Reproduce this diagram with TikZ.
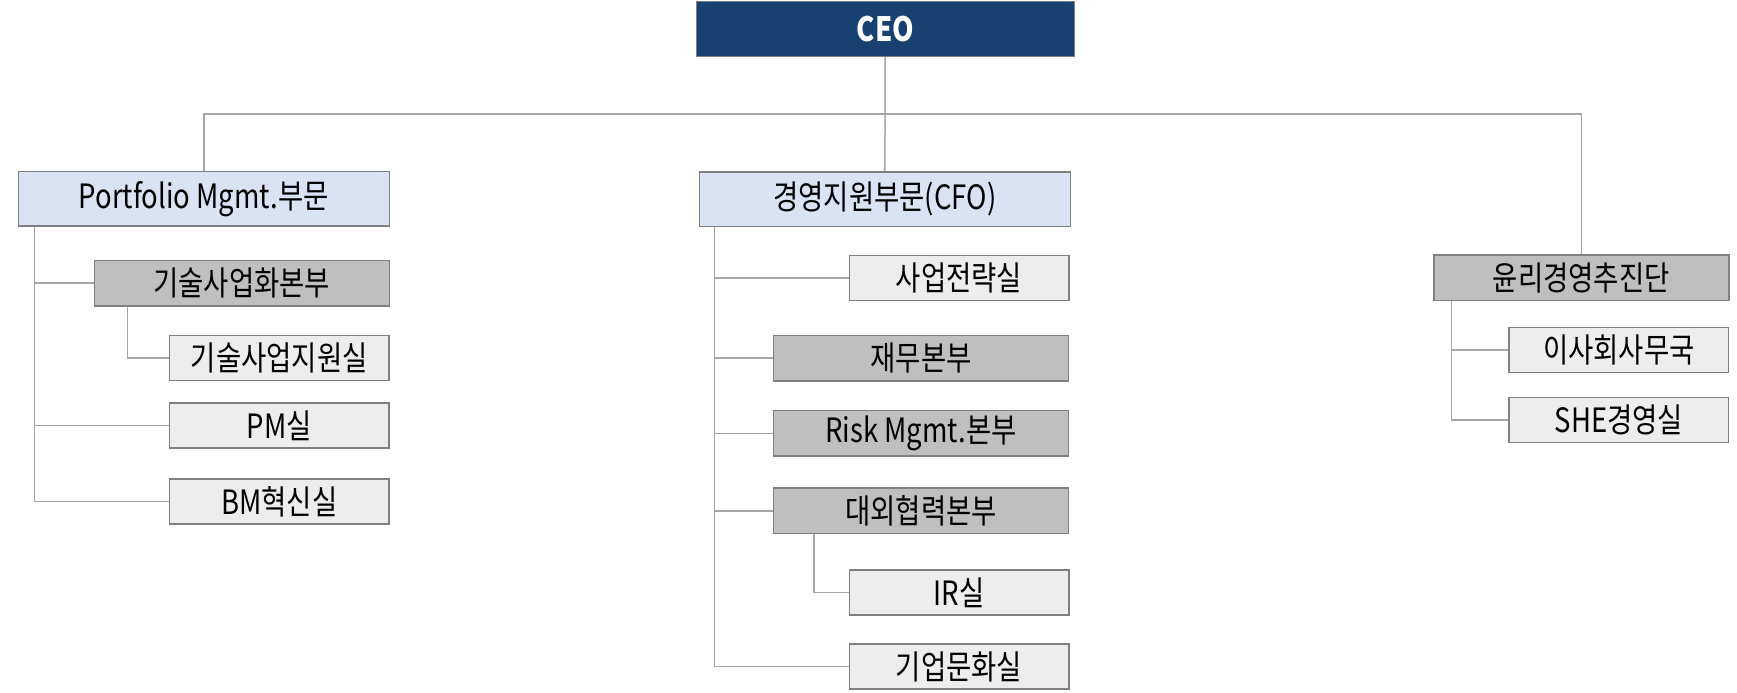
\documentclass[tikz,border=0pt]{standalone}
\usepackage{fontspec}
\setmainfont{Noto Sans CJK KR}[FakeStretch=0.82]
\definecolor{ceoblue}{RGB}{23,65,112}
\definecolor{divblue}{RGB}{218,227,243}
\definecolor{hqgray}{RGB}{191,191,191}
\definecolor{roomgray}{RGB}{237,237,237}
\definecolor{edgegray}{RGB}{128,128,128}
\definecolor{linegray}{RGB}{166,166,166}
\begin{document}
\begin{tikzpicture}[x=1pt,y=-1pt]

			\tikzstyle{box} = [rectangle, inner sep=0pt, text centered, draw=edgegray, line width=1.5pt, font=\fontsize{33.5}{40}\selectfont]
			\tikzstyle{ceo} = [box, minimum width=378pt, minimum height=55pt, fill=ceoblue, text=white, font=\fontsize{33.5}{40}\selectfont\bfseries]
			\tikzstyle{division} = [box, minimum width=371pt, minimum height=54.5pt, fill=divblue]
			\tikzstyle{hq} = [box, minimum width=295pt, minimum height=45.5pt, fill=hqgray]
			\tikzstyle{room} = [box, minimum width=219.5pt, minimum height=45pt, fill=roomgray]
			\tikzstyle{line} = [draw=linegray, line width=1.5pt]

			\useasboundingbox (0,0) rectangle (1737,693);

			% Nodes
			\node (ceo) [ceo] at (885.3,28.8) {CEO};
			\node (port) [division] at (203.8,198.8) {Portfolio Mgmt.부문};
			\node (cfo) [division] at (884.8,199) {경영지원부문(CFO)};
			\node (ethic) [hq] at (1581.3,277.5) {윤리경영추진단};
			\node (techhq) [hq] at (241.8,283.2) {기술사업화본부};
			\node (techsup) [room] at (279.3,358.2) {기술사업지원실};
			\node (pm) [room] at (279.3,425.7) {PM실};
			\node (bm) [room] at (279.3,501.7) {BM혁신실};
			\node (strategy) [room] at (959,278) {사업전략실};
			\node (finance) [hq] at (921,358.2) {재무본부};
			\node (risk) [hq] at (921,433.3) {Risk Mgmt.본부};
			\node (external) [hq] at (921,510.8) {대외협력본부};
			\node (ir) [room] at (959,592.3) {IR실};
			\node (culture) [room] at (959,666.7) {기업문화실};
			\node (board) [room] at (1618.8,349.8) {이사회사무국};
			\node (she) [room] at (1618.8,419.8) {SHE경영실};
			\coordinate (bus) at (885.3,114);

			% Lines
			\draw [line] (ceo) -- (cfo);
			\draw [line] (port.north) |- (bus) -| (ethic.north);
			\draw [line] ([xshift=17pt]port.south west) |- (techhq.west);
			\draw [line] ([xshift=17pt]port.south west) |- (pm.west);
			\draw [line] ([xshift=17pt]port.south west) |- (bm.west);
			\draw [line] ([xshift=34pt]techhq.south west) |- (techsup.west);
			\draw [line] ([xshift=16pt]cfo.south west) |- (strategy.west);
			\draw [line] ([xshift=16pt]cfo.south west) |- (finance.west);
			\draw [line] ([xshift=16pt]cfo.south west) |- (risk.west);
			\draw [line] ([xshift=16pt]cfo.south west) |- (external.west);
			\draw [line] ([xshift=16pt]cfo.south west) |- (culture.west);
			\draw [line] ([xshift=41pt]external.south west) |- (ir.west);
			\draw [line] ([xshift=18.4pt]ethic.south west) |- (board.west);
			\draw [line] ([xshift=18.4pt]ethic.south west) |- (she.west);

		\end{tikzpicture}
\end{document}
